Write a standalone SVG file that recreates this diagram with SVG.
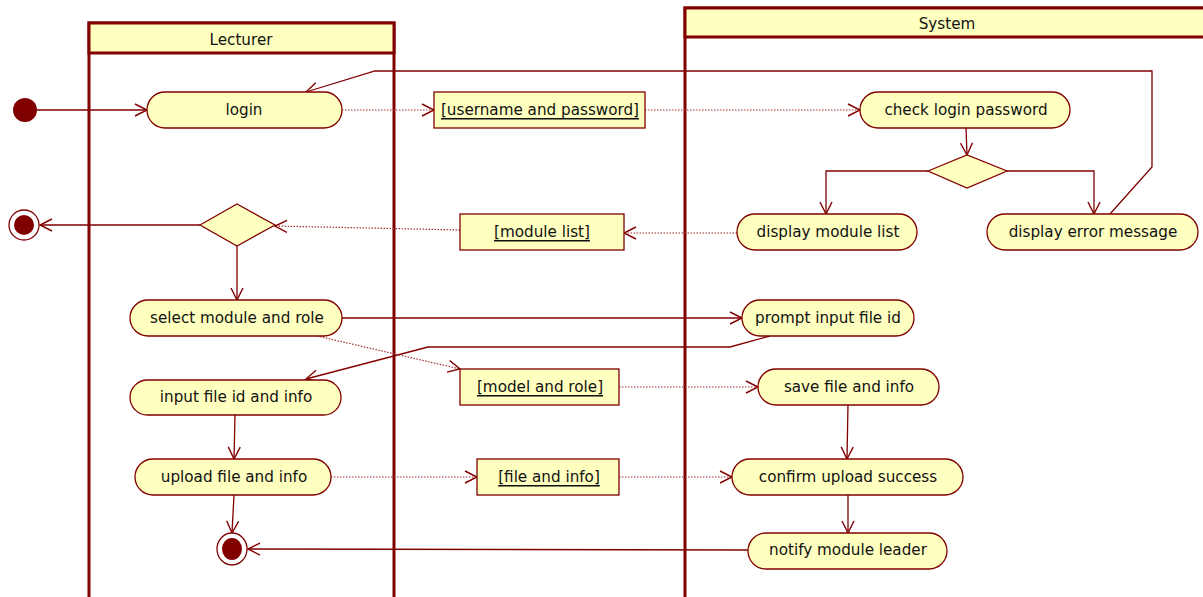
<svg xmlns="http://www.w3.org/2000/svg" width="1203" height="597" viewBox="0 0 1203 597">
  <style>
    .lane { fill: none; stroke: #800000; stroke-width: 3; }
    .lanehead { fill: #ffffc0; stroke: #800000; stroke-width: 3; }
    .act { fill: #ffffc0; stroke: #800000; stroke-width: 1.3; }
    .obj { fill: #ffffc0; stroke: #800000; stroke-width: 1.3; }
    .txt { font-family: "DejaVu Sans", "Liberation Sans", sans-serif; font-size: 15.2px; fill: #111; text-anchor: middle; dominant-baseline: central; }
    .u { text-decoration: underline; }
    .flow { fill: none; stroke: #800000; stroke-width: 1.3; marker-end: url(#open); }
    .dep { fill: none; stroke: #a03030; stroke-width: 1.2; stroke-dasharray: 1.5 1.5; marker-end: url(#open); }
    .dot { fill: #800000; }
  </style>
  <defs>
    <marker id="open" markerUnits="userSpaceOnUse" markerWidth="16" markerHeight="16" viewBox="0 0 16 16" refX="13" refY="8" orient="auto">
      <path d="M1,2 L13,8 L1,14" fill="none" stroke="#800000" stroke-width="1.4"/>
    </marker>
  </defs>
  <rect width="1203" height="597" fill="#ffffff"/>

  <!-- swimlanes -->
  <g id="lane-lecturer">
    <path class="lane" d="M89,597 V23 H394 V597"/>
    <rect class="lanehead" x="89" y="23" width="305" height="30"/>
    <text class="txt" x="241" y="40">Lecturer</text>
  </g>
  <g id="lane-system">
    <path class="lane" d="M685,597 V8 H1205"/>
    <rect class="lanehead" x="685" y="8" width="520" height="29"/>
    <text class="txt" x="947" y="24">System</text>
  </g>

  <!-- connectors -->
  <g id="connectors">
    <path class="flow" d="M37,110 H147"/>
    <path class="dep" d="M342,110 H434"/>
    <path class="dep" d="M645,110 H860"/>
    <path class="flow" d="M966,128 L967,155"/>
    <path class="flow" d="M928,171 H826 V214"/>
    <path class="flow" d="M1007,171 H1094 V214"/>
    <path class="flow" d="M1110,214 L1152,167 V71 H375 L306,92"/>
    <path class="dep" d="M737,233 H624"/>
    <path class="dep" d="M460,230 L275,226"/>
    <path class="flow" d="M200,225 H40"/>
    <path class="flow" d="M237,246 V300"/>
    <path class="flow" d="M342,318 H742"/>
    <path class="flow" d="M770,336 L730,347 H428 L306,379"/>
    <path class="dep" d="M317,336 L460,369"/>
    <path class="dep" d="M619,387 H758"/>
    <path class="flow" d="M848,404 L847,459"/>
    <path class="flow" d="M235,415 L234,459"/>
    <path class="dep" d="M331,477 H477"/>
    <path class="dep" d="M619,477 H732"/>
    <path class="flow" d="M848,495 V533"/>
    <path class="flow" d="M234,495 L232,533"/>
    <path class="flow" d="M748,550 L248,549"/>
  </g>

  <!-- nodes -->
  <g id="start"><circle class="dot" cx="25" cy="110" r="12"/></g>
  <g id="end-left">
    <circle cx="24" cy="225" r="15" fill="#fff" stroke="#800000" stroke-width="1.3"/>
    <circle class="dot" cx="24" cy="225" r="10"/>
  </g>
  <g id="end-bottom">
    <ellipse cx="232" cy="549" rx="15" ry="16" fill="#fff" stroke="#800000" stroke-width="1.3"/>
    <ellipse class="dot" cx="232" cy="549" rx="10" ry="11"/>
  </g>

  <g id="login">
    <rect class="act" x="147" y="92" width="195" height="36" rx="18"/>
    <text class="txt" x="244" y="110">login</text>
  </g>
  <g id="obj-credentials">
    <rect class="obj" x="434" y="92" width="211" height="36"/>
    <text class="txt u" x="540" y="110">[username and password]</text>
  </g>
  <g id="check-login">
    <rect class="act" x="860" y="92" width="210" height="36" rx="18"/>
    <text class="txt" x="966" y="110">check login password</text>
  </g>
  <g id="decision-login">
    <polygon class="act" points="928,171 967,155 1007,171 967,188"/>
  </g>
  <g id="display-module-list">
    <rect class="act" x="737" y="214" width="180" height="36" rx="18"/>
    <text class="txt" x="828" y="232">display module list</text>
  </g>
  <g id="display-error">
    <rect class="act" x="987" y="214" width="211" height="36" rx="18"/>
    <text class="txt" x="1093" y="232">display error message</text>
  </g>
  <g id="obj-module-list">
    <rect class="obj" x="460" y="214" width="164" height="36"/>
    <text class="txt u" x="542" y="232">[module list]</text>
  </g>
  <g id="decision-module">
    <polygon class="act" points="200,225 237,204 275,225 237,246"/>
  </g>
  <g id="select-module">
    <rect class="act" x="130" y="300" width="212" height="36" rx="18"/>
    <text class="txt" x="237" y="318">select module and role</text>
  </g>
  <g id="prompt-file-id">
    <rect class="act" x="742" y="300" width="172" height="36" rx="18"/>
    <text class="txt" x="828" y="318">prompt input file id</text>
  </g>
  <g id="obj-model-role">
    <rect class="obj" x="460" y="369" width="159" height="36"/>
    <text class="txt u" x="540" y="387">[model and role]</text>
  </g>
  <g id="input-file-id">
    <rect class="act" x="130" y="380" width="211" height="35" rx="17.5"/>
    <text class="txt" x="236" y="397">input file id and info</text>
  </g>
  <g id="save-file">
    <rect class="act" x="758" y="369" width="181" height="36" rx="18"/>
    <text class="txt" x="849" y="387">save file and info</text>
  </g>
  <g id="upload-file">
    <rect class="act" x="135" y="459" width="196" height="36" rx="18"/>
    <text class="txt" x="234" y="477">upload file and info</text>
  </g>
  <g id="obj-file-info">
    <rect class="obj" x="477" y="459" width="142" height="36"/>
    <text class="txt u" x="549" y="477">[file and info]</text>
  </g>
  <g id="confirm-upload">
    <rect class="act" x="732" y="459" width="231" height="36" rx="18"/>
    <text class="txt" x="848" y="477">confirm upload success</text>
  </g>
  <g id="notify-leader">
    <rect class="act" x="748" y="533" width="199" height="36" rx="18"/>
    <text class="txt" x="848" y="550">notify module leader</text>
  </g>
</svg>
